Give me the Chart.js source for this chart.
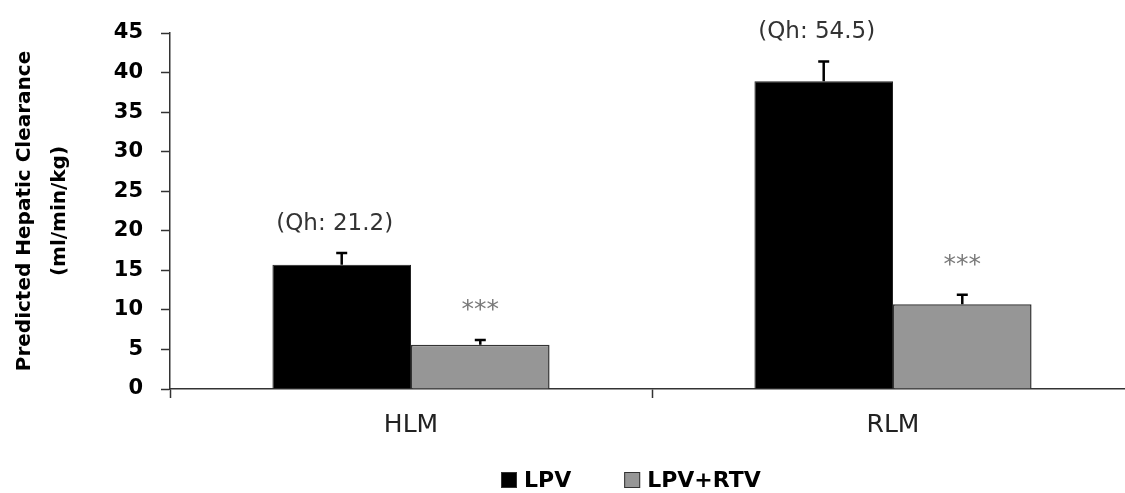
<!DOCTYPE html>
<html>
<head>
<meta charset="utf-8">
<script src="https://cdn.jsdelivr.net/npm/chart.js@4"></script>
<style>
  html, body { margin: 0; padding: 0; background: #fff; overflow: hidden; }
  /* a little wider than the window: the x axis runs off the right edge like the original */
  #wrap { width: 1134px; height: 493px; }
</style>
</head>
<body>
<div id="wrap"><canvas id="chart"></canvas></div>
<script>
// data
const categories = ['HLM', 'RLM'];
const seriesNames = ['LPV', 'LPV+RTV'];
const lpv = [15.7, 38.9];
const lpvErr = [1.5, 2.5];
const lpvRtv = [5.6, 10.7];
const lpvRtvErr = [0.6, 1.2];
const qhLabels = ['(Qh: 21.2)', '(Qh: 54.5)'];
const sigLabels = ['***', '***'];
const yTicks = [0, 5, 10, 15, 20, 25, 30, 35, 40, 45];

const FONT = "'DejaVu Sans', Verdana, sans-serif";

// error bars + text above bars
const errorBars = {
    id: 'errorBars',
    afterDatasetsDraw(chart) {
        const ctx = chart.ctx;
        const y = chart.scales.y;
        chart.data.datasets.forEach((ds, di) => {
            const meta = chart.getDatasetMeta(di);
            meta.data.forEach((bar, i) => {
                const top = y.getPixelForValue(ds.data[i] + ds.errors[i]);
                ctx.save();
                ctx.strokeStyle = '#000';
                ctx.lineWidth = 2.5;
                ctx.beginPath();
                ctx.moveTo(bar.x, bar.y);
                ctx.lineTo(bar.x, top);
                ctx.moveTo(bar.x - 5.5, top);
                ctx.lineTo(bar.x + 5.5, top);
                ctx.stroke();

                const note = ds.notes[i];
                if (note) {
                    ctx.fillStyle = ds.noteColor;
                    ctx.font = ds.noteFont;
                    ctx.textAlign = 'center';
                    ctx.textBaseline = 'middle';
                    ctx.fillText(note, bar.x + ds.noteShift, top - ds.noteGap);
                }
                ctx.restore();
            });
        });
    }
};

// legend drawn by hand so it sits where the original one does
const customLegend = {
    id: 'customLegend',
    afterDraw(chart) {
        const ctx = chart.ctx;
        ctx.save();
        ctx.font = 'bold 22px ' + FONT;
        ctx.textBaseline = 'middle';
        let x = 501;
        const yMid = 480;
        chart.data.datasets.forEach((ds) => {
            ctx.fillStyle = ds.backgroundColor;
            ctx.fillRect(x, yMid - 8, 16, 16);
            ctx.strokeStyle = '#333';
            ctx.lineWidth = 1;
            ctx.strokeRect(x + 0.5, yMid - 7.5, 15, 15);
            ctx.fillStyle = '#000';
            ctx.textAlign = 'left';
            ctx.fillText(ds.label, x + 23, yMid + 1);
            x += 23 + ctx.measureText(ds.label).width + 53;
        });
        ctx.restore();
    }
};

const ctx = document.getElementById('chart').getContext('2d');
const chart = new Chart(ctx, {
    type: 'bar',
    data: {
        labels: categories,
        datasets: [{
            label: seriesNames[0],
            data: lpv,
            errors: lpvErr,
            notes: qhLabels,
            noteColor: '#333',
            noteFont: '23px ' + FONT,
            noteShift: -7,
            noteGap: 29,
            backgroundColor: '#000000',
            borderColor: '#222',
            borderWidth: 1,
            categoryPercentage: 0.575,
            barPercentage: 1
        }, {
            label: seriesNames[1],
            data: lpvRtv,
            errors: lpvRtvErr,
            notes: sigLabels,
            noteColor: '#7a7a7a',
            noteFont: '25px ' + FONT,
            noteShift: 0,
            noteGap: 29,
            backgroundColor: '#969696',
            borderColor: '#333',
            borderWidth: 1.5,
            categoryPercentage: 0.575,
            barPercentage: 1
        }]
    },
    options: {
        responsive: true,
        maintainAspectRatio: false,
        animation: false,
        layout: { padding: { top: 33, right: 0, bottom: 44, left: 0 } },
        plugins: {
            legend: { display: false },
            tooltip: { enabled: false }
        },
        scales: {
            x: {
                afterFit: s => { s.height = 60; },
                grid: {
                    offset: true,
                    drawOnChartArea: false,
                    drawTicks: true,
                    tickLength: 9,
                    tickColor: '#333',
                    tickWidth: 1.5
                },
                border: { color: '#333', width: 1.5 },
                ticks: {
                    color: '#222',
                    padding: 12,
                    font: { family: FONT, size: 25 }
                }
            },
            y: {
                min: 0,
                max: 45,
                afterFit: s => { s.width = 170; },
                afterBuildTicks: s => { s.ticks = yTicks.map(v => ({ value: v })); },
                grid: {
                    drawOnChartArea: false,
                    drawTicks: true,
                    tickLength: 9,
                    tickColor: '#333',
                    tickWidth: 1.5
                },
                border: { color: '#333', width: 1.5 },
                ticks: {
                    color: '#000',
                    padding: 18,
                    font: { family: FONT, size: 21, weight: 'bold' }
                },
                title: {
                    display: true,
                    text: ['Predicted Hepatic Clearance', '(ml/min/kg)'],
                    color: '#000',
                    font: { family: FONT, size: 20, weight: 'bold', lineHeight: 1.75 },
                    padding: { top: 7, bottom: 0 }
                }
            }
        }
    },
    plugins: [errorBars, customLegend]
});
</script>
</body>
</html>
